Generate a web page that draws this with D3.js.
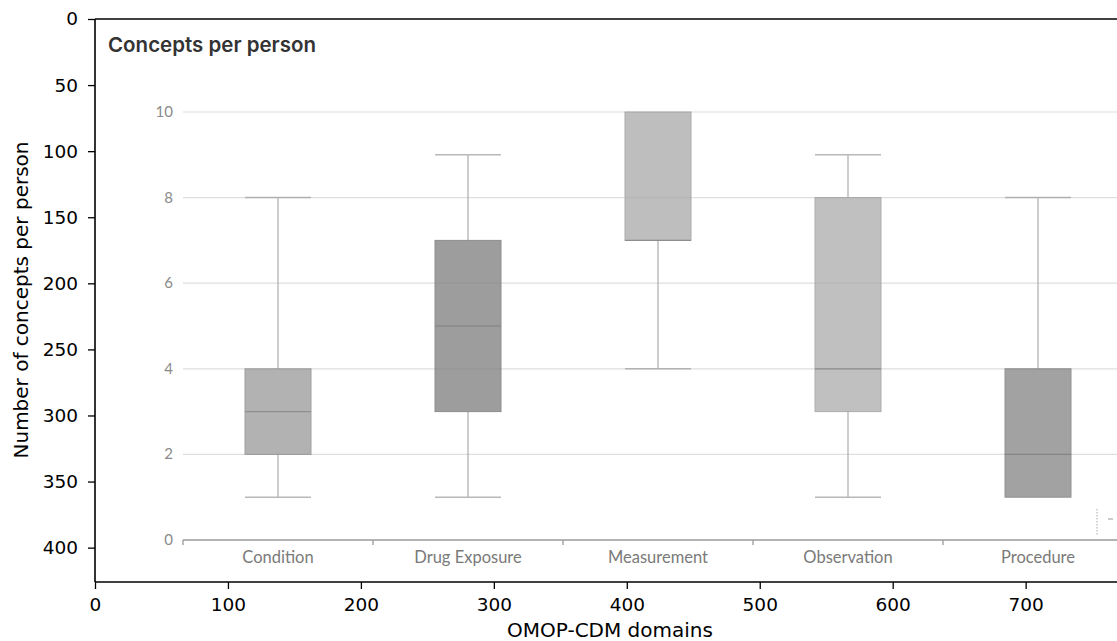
<!DOCTYPE html>
<html><head><meta charset="utf-8">
<script src="https://cdn.jsdelivr.net/npm/d3@7"></script>
<style>body{margin:0;background:#fff}svg{display:block}</style>
</head><body>
<script>
// Outer (matplotlib) axes ticks
const outerXTicks = [0,100,200,300,400,500,600,700];
const outerYTicks = [0,50,100,150,200,250,300,350,400];
// Inner box plot data
const categories = ["Condition","Drug Exposure","Measurement","Observation","Procedure"];
const whiskerLow  = [1, 1, 4, 1, 1];
const q1          = [2, 3, 7, 3, 1];
const median      = [3, 5, 7, 4, 2];
const q3          = [4, 7, 10, 8, 4];
const whiskerHigh = [8, 9, 10, 9, 8];
const boxFill     = ["#b2b2b2","#9d9d9d","#bebebe","#c0c0c0","#a2a2a2"];
const innerYTicks = [0,2,4,6,8,10];

const W=1117,H=641;
const svg=d3.select("body").append("svg").attr("width",W).attr("height",H);

const ox=d3.scaleLinear().domain([0,780]).range([95,1132]);
const oy=d3.scaleLinear().domain([0,426]).range([19,582]);

// inner chart scales
const iy=d3.scaleLinear().domain([0,10]).range([540,112]);
const ix=d3.scaleBand().domain(categories).range([183,1133]);
const bw=66;

const g=svg.append("g");
// gridlines
g.selectAll("line.grid").data(innerYTicks.filter(d=>d>0)).join("line")
 .attr("x1",183).attr("x2",W).attr("y1",d=>iy(d)).attr("y2",d=>iy(d))
 .attr("stroke","#e8e8e8").attr("stroke-width",1.2);
g.selectAll("text.iyt").data(innerYTicks).join("text")
 .attr("x",173).attr("y",d=>iy(d)+5).attr("text-anchor","end")
 .attr("font-family","Lato, 'Open Sans', sans-serif").attr("font-size",15).attr("fill","#8a8a8a")
 .text(d=>d);

// boxes
const data=categories.map((c,i)=>({c,lo:whiskerLow[i],q1:q1[i],med:median[i],q3:q3[i],hi:whiskerHigh[i],fill:boxFill[i]}));
const cx=d=>ix(d.c)+ix.bandwidth()/2;
const bg=g.selectAll("g.box").data(data).join("g");
bg.append("line").attr("x1",cx).attr("x2",cx)
 .attr("y1",d=>iy(d.hi)).attr("y2",d=>iy(d.lo)).attr("stroke","#bdbdbd").attr("stroke-width",1.5);
bg.append("line").filter(d=>d.hi>d.q3).attr("x1",d=>cx(d)-bw/2).attr("x2",d=>cx(d)+bw/2)
 .attr("y1",d=>iy(d.hi)).attr("y2",d=>iy(d.hi)).attr("stroke","#b8b8b8").attr("stroke-width",1.5);
bg.append("line").filter(d=>d.lo<d.q1).attr("x1",d=>cx(d)-bw/2).attr("x2",d=>cx(d)+bw/2)
 .attr("y1",d=>iy(d.lo)).attr("y2",d=>iy(d.lo)).attr("stroke","#b8b8b8").attr("stroke-width",1.5);
bg.append("rect").attr("x",d=>cx(d)-bw/2).attr("width",bw)
 .attr("y",d=>iy(d.q3)).attr("height",d=>iy(d.q1)-iy(d.q3))
 .attr("fill",d=>d.fill).attr("stroke",d=>d3.color(d.fill).darker(0.3)).attr("stroke-width",1);
bg.append("line").attr("x1",d=>cx(d)-bw/2).attr("x2",d=>cx(d)+bw/2)
 .attr("y1",d=>iy(d.med)).attr("y2",d=>iy(d.med)).attr("stroke","#868686").attr("stroke-width",1.3).attr("opacity",0.8);
// gridlines faintly visible through boxes
g.selectAll("line.grid2").data(innerYTicks.filter(d=>d>0)).join("line")
 .attr("x1",183).attr("x2",W).attr("y1",d=>iy(d)).attr("y2",d=>iy(d))
 .attr("stroke","#000").attr("stroke-opacity",0.04).attr("stroke-width",1.2);

// category axis
g.append("line").attr("x1",183).attr("x2",W).attr("y1",iy(0)).attr("y2",iy(0)).attr("stroke","#9a9a9a").attr("stroke-width",1.3);
const bounds=categories.map(c=>ix(c));
g.selectAll("line.ctick").data(bounds).join("line")
 .attr("x1",d=>d).attr("x2",d=>d).attr("y1",iy(0)).attr("y2",iy(0)+5).attr("stroke","#9a9a9a").attr("stroke-width",1.3);
g.selectAll("text.cat").data(categories).join("text")
 .attr("x",d=>ix(d)+ix.bandwidth()/2).attr("y",563).attr("text-anchor","middle")
 .attr("font-family","Lato, 'Open Sans', sans-serif").attr("font-size",16.5).attr("fill","#7a7a7a").text(d=>d);

// remnant legend marks at right
g.append("line").attr("x1",1097).attr("x2",1097).attr("y1",509).attr("y2",535).attr("stroke","#aaa").attr("stroke-dasharray","1.5,1.5");
g.append("line").attr("x1",1108).attr("x2",1113).attr("y1",519).attr("y2",519).attr("stroke","#999");

// title
g.append("text").attr("x",108).attr("y",52).attr("font-family","Inter, sans-serif").attr("font-weight",600)
 .attr("font-size",20.5).attr("fill","#333").text("Concepts per person");

// outer axes
const xa=svg.append("g").attr("transform","translate(0,582)").call(d3.axisBottom(ox).tickValues(outerXTicks).tickSize(7).tickPadding(9));
const ya=svg.append("g").attr("transform","translate(95,0)").call(d3.axisLeft(oy).tickValues(outerYTicks).tickSize(7).tickPadding(10));
[xa,ya].forEach(a=>{a.selectAll("text").attr("font-family","'DejaVu Sans', sans-serif").attr("font-size",18.5).attr("fill","#000");
 a.selectAll("line").attr("stroke","#000").attr("stroke-width",1.3);
 a.select(".domain").remove();});
svg.append("line").attr("x1",95).attr("x2",W).attr("y1",582).attr("y2",582).attr("stroke","#000").attr("stroke-width",1.6);
svg.append("line").attr("x1",95).attr("x2",W).attr("y1",19).attr("y2",19).attr("stroke","#000").attr("stroke-width",1.6);
svg.append("line").attr("x1",95).attr("x2",95).attr("y1",19).attr("y2",582).attr("stroke","#000").attr("stroke-width",1.6);

svg.append("text").attr("x",610).attr("y",637).attr("text-anchor","middle")
 .attr("font-family","'DejaVu Sans', sans-serif").attr("font-size",20).text("OMOP-CDM domains");
svg.append("text").attr("transform","translate(28,300) rotate(-90)").attr("text-anchor","middle")
 .attr("font-family","'DejaVu Sans', sans-serif").attr("font-size",20).text("Number of concepts per person");
</script>
</body></html>
